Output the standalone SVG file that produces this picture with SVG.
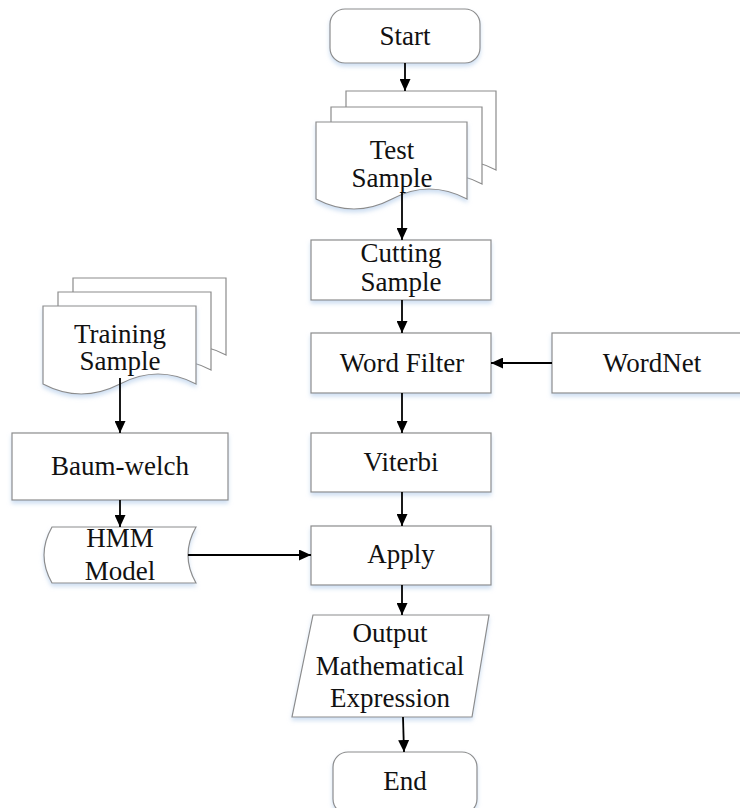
<svg xmlns="http://www.w3.org/2000/svg" width="740" height="808" viewBox="0 0 740 808">
<style>
.box{fill:#fff;stroke:#8c8c8c;stroke-width:1.2;filter:url(#sh)}
.pg{fill:#fff;stroke:#8c8c8c;stroke-width:1.2}
.t{font-family:"Liberation Serif","Times New Roman",serif;font-size:27px;fill:#111;text-anchor:middle}
.c{stroke:#000;stroke-width:1.8;fill:none;marker-end:url(#ah)}
</style>
<defs>
<filter id="sh" x="-10%" y="-10%" width="120%" height="130%">
<feDropShadow dx="0" dy="3" stdDeviation="2" flood-color="#b9d0ec" flood-opacity="0.7"/>
</filter>
<marker id="ah" markerUnits="userSpaceOnUse" markerWidth="12" markerHeight="11" refX="12" refY="5.5" orient="auto">
<path d="M0,0 L12,5.5 L0,11 Z" fill="#000"/>
</marker>
</defs>
<rect width="740" height="808" fill="#fff"/>

<g id="start">
<rect class="box" x="330" y="9" width="150" height="54" rx="15"/>
<text class="t" x="405" y="45">Start</text>
</g>

<g id="test-sample">
<path class="pg" d="M346,91 H496 V170 Q458,150 421,170 Q384,190 346,170 Z"/>
<path class="pg" d="M331,107 H482 V184 Q444,164 406,184 Q368,204 331,184 Z"/>
<path class="box" d="M316,122 H467 V199 Q429,179 392,199 Q354,219 316,199 Z"/>
<text class="t" x="392" y="159">Test</text>
<text class="t" x="392" y="187">Sample</text>
</g>

<g id="cutting-sample">
<rect class="box" x="311" y="240" width="180" height="60"/>
<text class="t" x="401" y="262">Cutting</text>
<text class="t" x="401" y="291">Sample</text>
</g>

<g id="word-filter">
<rect class="box" x="311" y="333" width="180" height="60"/>
<text class="t" x="402" y="372">Word Filter</text>
</g>

<g id="wordnet">
<rect class="box" x="552" y="333" width="200" height="60"/>
<text class="t" x="652" y="372">WordNet</text>
</g>

<g id="viterbi">
<rect class="box" x="311" y="433" width="180" height="59"/>
<text class="t" x="401" y="471">Viterbi</text>
</g>

<g id="apply">
<rect class="box" x="311" y="526" width="180" height="59"/>
<text class="t" x="401" y="563">Apply</text>
</g>

<g id="training-sample">
<path class="pg" d="M73,278 H226 V355 Q188,335 150,355 Q111,375 73,355 Z"/>
<path class="pg" d="M58,292 H211 V370 Q173,350 135,370 Q96,390 58,370 Z"/>
<path class="box" d="M43,306 H196 V384 Q158,364 120,384 Q81,404 43,384 Z"/>
<text class="t" x="120" y="343">Training</text>
<text class="t" x="120" y="370">Sample</text>
</g>

<g id="baum-welch">
<rect class="box" x="12" y="433" width="216" height="67"/>
<text class="t" x="120" y="475">Baum-welch</text>
</g>

<g id="hmm-model">
<path class="box" d="M52,527 H196 Q180,555 196,583 H52 Q36,555 52,527 Z"/>
<text class="t" x="120" y="547">HMM</text>
<text class="t" x="120" y="580">Model</text>
</g>

<g id="output">
<path class="box" d="M313,615 H489 L472,717 H292 Z"/>
<text class="t" x="390" y="642">Output</text>
<text class="t" x="390" y="675">Mathematical</text>
<text class="t" x="390" y="707">Expression</text>
</g>

<g id="end">
<rect class="box" x="333" y="752" width="144" height="62" rx="15"/>
<text class="t" x="405" y="790">End</text>
</g>

<g id="connectors">
<line class="c" x1="405" y1="63" x2="405" y2="91"/>
<line class="c" x1="402" y1="192" x2="402" y2="240"/>
<line class="c" x1="402" y1="300" x2="402" y2="333"/>
<line class="c" x1="552" y1="363" x2="491" y2="363"/>
<line class="c" x1="402" y1="393" x2="402" y2="433"/>
<line class="c" x1="402" y1="492" x2="402" y2="526"/>
<line class="c" x1="402" y1="585" x2="402" y2="615"/>
<line class="c" x1="403" y1="717" x2="404" y2="752"/>
<line class="c" x1="120" y1="378" x2="120" y2="433"/>
<line class="c" x1="120" y1="500" x2="120" y2="527"/>
<line class="c" x1="188" y1="555" x2="311" y2="555"/>
</g>
</svg>
